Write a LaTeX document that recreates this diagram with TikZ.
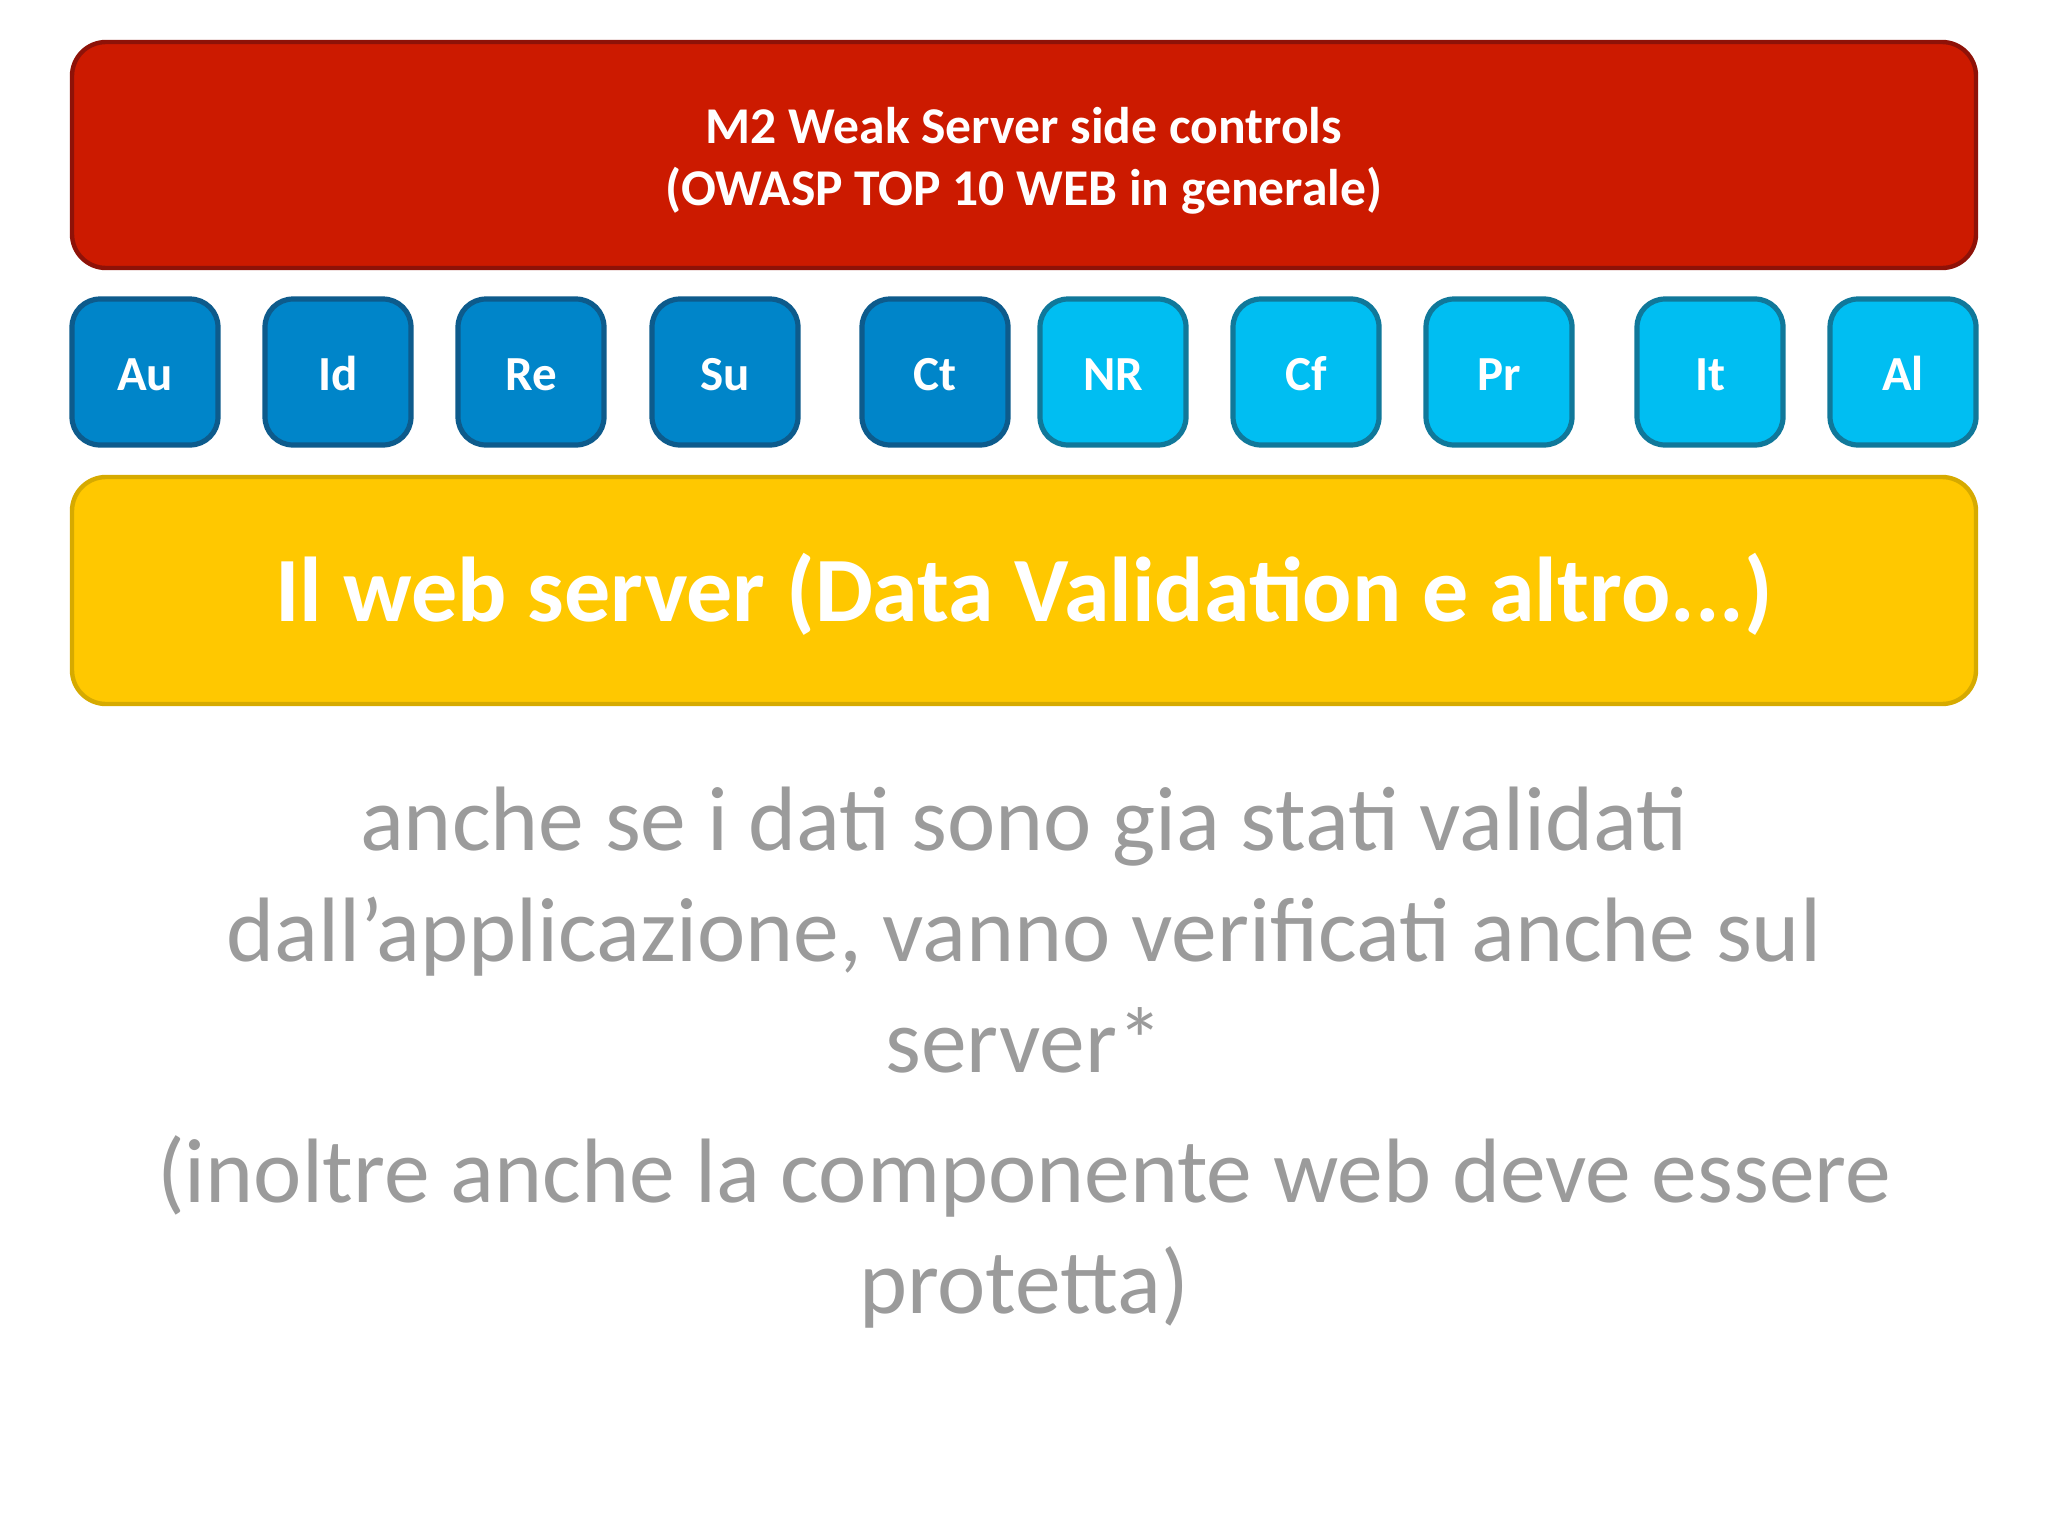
\documentclass[tikz,border=0pt]{standalone}
\usepackage{fontspec}
\setmainfont{Carlito}
\definecolor{redfill}{HTML}{CC1A00}
\definecolor{redline}{HTML}{8E1208}
\definecolor{dbfill}{HTML}{0085C9}
\definecolor{dbline}{HTML}{0D5B8C}
\definecolor{lbfill}{HTML}{00BEF2}
\definecolor{lbline}{HTML}{10789A}
\definecolor{yfill}{HTML}{FFC800}
\definecolor{yline}{HTML}{D6AA00}
\definecolor{greytxt}{HTML}{9B9B9B}
\tikzset{
  px/.style={x=0.5pt,y=-0.5pt},
  bigbox/.style={rounded corners=17pt,line width=2.2pt},
  tile/.style={rounded corners=14pt,line width=2.6pt},
  darktile/.style={tile,draw=dbline,fill=dbfill},
  lighttile/.style={tile,draw=lbline,fill=lbfill},
  tilelabel/.style={text=white,anchor=base,font=\bfseries\fontsize{24.5}{28}\selectfont},
  bodytext/.style={text=greytxt,align=center,font=\fontsize{45.75}{55.5}\selectfont}
}
\begin{document}
\begin{tikzpicture}[px]
\useasboundingbox (0,0) rectangle (2048,1536);
% top red bar
\draw[bigbox,draw=redline,fill=redfill] (72,42) rectangle (1976,268);
\node[text=white,align=center,font=\bfseries\fontsize{25.8}{30.8}\selectfont] (top) at (1024,161) {M2 Weak Server side controls\\(OWASP TOP 10 WEB in generale)};
% tiles
\foreach \x/\lab/\sty/\nm in {72/Au/darktile/au,265/Id/darktile/id,458/Re/darktile/re,652/Su/darktile/su,862/Ct/darktile/ct,1040/NR/lighttile/nr,1233/Cf/lighttile/cf,1426/Pr/lighttile/pr,1637/It/lighttile/it,1830/Al/lighttile/al}{
  \draw[\sty] (\x,299) rectangle ++(146,146);
  \node[tilelabel] (\nm) at (\x+73,390) {\lab};
}
% yellow bar
\draw[bigbox,draw=yline,fill=yfill] (72,477) rectangle (1976,704);
\node[text=white,font=\bfseries\fontsize{46}{56}\selectfont] (web) at (1024,594) {Il web server (Data Validation e altro...)};
% grey text
\node[bodytext] (p1) at (1024,930) {anche se i dati sono gia stati validati\\dall’applicazione, vanno verificati anche sul\\server*};
\node[bodytext] (p2) at (1024,1232) {(inoltre anche la componente web deve essere\\protetta)};
\end{tikzpicture}
\end{document}
